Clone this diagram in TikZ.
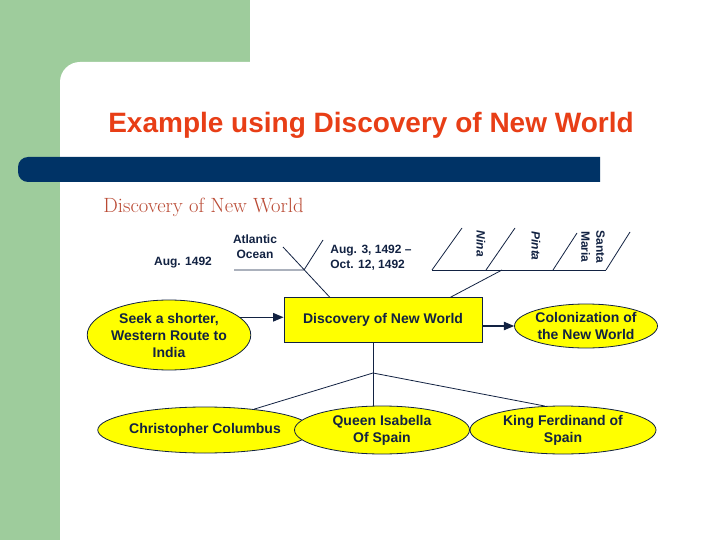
\documentclass[tikz,border=0pt]{standalone}
\usepackage{fontspec}
\usepackage{tikz}
\usepackage{xcolor}
\usetikzlibrary{arrows,shapes.geometric}
\newfontfamily\arial{Liberation Sans}
\definecolor{slidegreen}{RGB}{158,204,156}
\definecolor{barblue}{RGB}{0,51,102}
\definecolor{titlered}{RGB}{232,62,22}
\definecolor{subred}{RGB}{186,74,52}
\definecolor{ink}{RGB}{18,34,66}
\definecolor{oval}{RGB}{255,255,0}

\begin{document}
\begin{tikzpicture}[x=1pt,y=-1pt,line width=0.8pt,draw=ink,
    lbl/.style={text=ink,align=center,inner sep=0pt,font=\arial\bfseries\fontsize{12}{15}\selectfont},
    yel/.style={draw=ink,fill=oval,ellipse,inner sep=0pt,align=center,text=ink,font=\arial\bfseries\fontsize{14}{17}\selectfont},
    arr/.style={-triangle 45,line width=1.4pt}]
      \useasboundingbox (0,0) rectangle (720,540);
      \fill[slidegreen] (0,0) rectangle (250,540);
      \fill[white,rounded corners=20pt] (60,62) rectangle (760,580);
      \fill[barblue] (30,157) rectangle (600,182) [rounded corners=10pt] (18,157) rectangle (42,182);

      \node [text=titlered,font=\arial\bfseries\fontsize{28}{32}\selectfont] (t) at (371,125) {Example using Discovery of New World};
      \node [text=subred,font=\fontsize{20.6}{24}\selectfont,anchor=west,inner sep=0pt] (s) at (103,207) {Discovery of New World};

      \node [draw=ink,fill=oval,line width=1pt,minimum width=198pt,minimum height=45pt,text=ink,font=\arial\bfseries\fontsize{14}{17}\selectfont] (c) at (383,320) {Discovery of New World};

      \node [yel,minimum width=132pt,minimum height=70pt] (e1) at (169,335) {Seek a shorter,\\Western Route to\\India};
      \node [yel,minimum width=128pt,minimum height=44pt] (e2) at (586,326) {Colonization of\\the New World};
      \node [yel,minimum width=170pt,minimum height=46pt] (e3) at (205,430) {Christopher Columbus};
      \node [yel,minimum width=175pt,minimum height=48pt] (e4) at (382,430) {Queen Isabella\\Of Spain};
      \node [yel,minimum width=186pt,minimum height=48pt] (e5) at (563,430) {King Ferdinand of\\Spain};

      \node [lbl] (a1) at (183,263) {Aug. 1492};
      \node [lbl] (a2) at (255,247) {Atlantic\\Ocean};
      \node [lbl,align=left,anchor=west] (a3) at (330,258) {Aug. 3, 1492 –\\Oct. 12, 1492};
      \node [lbl,rotate=-90,font=\arial\bfseries\itshape\fontsize{12}{15}\selectfont] (n1) at (481,244) {Nina};
      \node [lbl,rotate=-90,font=\arial\bfseries\itshape\fontsize{12}{15}\selectfont] (n2) at (536,246) {Pinta};
      \node [lbl,rotate=-90] (n3) at (593,247) {Santa\\Maria};

      \coordinate (h1) at (234,270);
      \coordinate (h2) at (304,270);
      \coordinate (h3) at (283,247);
      \coordinate (h4) at (323,240);
      \coordinate (h5) at (330,297.5);
      \draw (h1) -- (h2) -- (h4);
      \draw (h3) -- (h5);

      \coordinate (r1) at (432,270);
      \coordinate (r2) at (486,270);
      \coordinate (r3) at (553,270);
      \coordinate (r4) at (606,270);
      \coordinate (r5) at (502,270);
      \coordinate (r6) at (450,297.5);
      \draw (r1) -- (r4);
      \draw (r1) -- (462,228);
      \draw (r2) -- (515,228);
      \draw (r3) -- (577,233);
      \draw (r4) -- (630,232);
      \draw (r5) -- (r6);

      \coordinate (j) at (373,373);
      \draw (j |- c.south) -- (j |- e4.north);
      \draw (e3.23) -- (j) -- (e5.127);

      \draw [arr] (e1.14) -- (e1.14 -| c.west);
      \draw [arr] (c.east |- e2.west) -- (e2.west);
    \end{tikzpicture}
\end{document}
